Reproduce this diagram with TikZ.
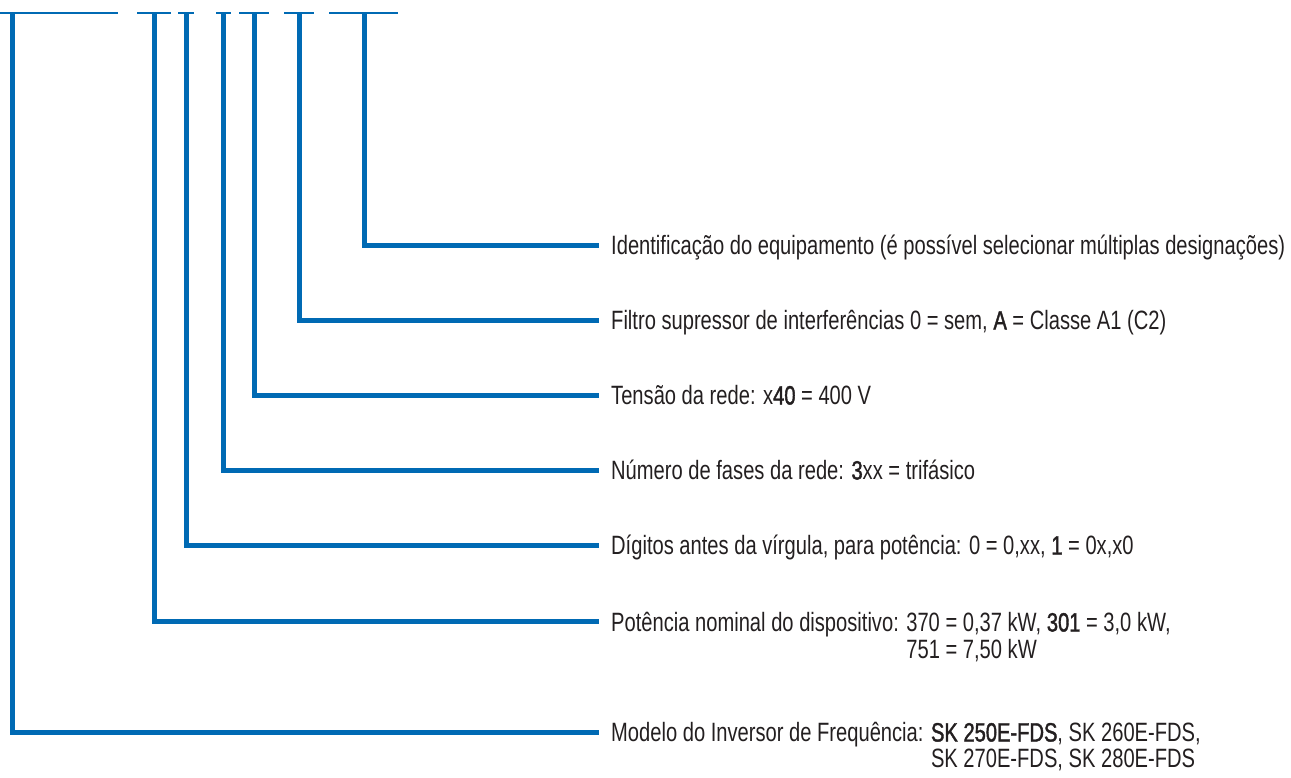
\documentclass[tikz,border=0pt]{standalone}
\usepackage{fontspec}
\setmainfont[FakeStretch=0.76]{Liberation Sans}
\newfontfamily\heavyfont[FakeStretch=0.76,FakeBold=1.5]{Liberation Sans}
\newcommand\bnum[1]{{\heavyfont #1}}
\definecolor{nordblue}{RGB}{0,106,180}
\definecolor{txt}{RGB}{35,31,32}
\begin{document}
\begin{tikzpicture}[x=1pt,y=-1pt,
  lead/.style={draw=nordblue,line width=5pt},
  bar/.style={draw=nordblue,line width=2.5pt},
  lbl/.style={anchor=base west,inner sep=0pt,text=txt,font=\fontsize{26.5}{25.5}\selectfont}]
\useasboundingbox (0,0) rectangle (1291,777);
% top bars
\coordinate (b1a) at (0,13);   \coordinate (b1b) at (118,13);
\coordinate (b2a) at (137,13); \coordinate (b2b) at (171,13);
\coordinate (b3a) at (178,13); \coordinate (b3b) at (194,13);
\coordinate (b4a) at (216,13); \coordinate (b4b) at (231,13);
\coordinate (b5a) at (239,13); \coordinate (b5b) at (269,13);
\coordinate (b6a) at (284,13); \coordinate (b6b) at (314,13);
\coordinate (b7a) at (329,13); \coordinate (b7b) at (398,13);
\draw[bar] (b1a) -- (b1b);
\draw[bar] (b2a) -- (b2b);
\draw[bar] (b3a) -- (b3b);
\draw[bar] (b4a) -- (b4b);
\draw[bar] (b5a) -- (b5b);
\draw[bar] (b6a) -- (b6b);
\draw[bar] (b7a) -- (b7b);
% leader start points
\coordinate (t1) at (12,13);
\coordinate (t2) at (154.5,13);
\coordinate (t3) at (186,13);
\coordinate (t4) at (223,13);
\coordinate (t5) at (254,13);
\coordinate (t6) at (299,13);
\coordinate (t7) at (364,13);
% leader end points
\coordinate (e1) at (599,732);
\coordinate (e2) at (599,621);
\coordinate (e3) at (599,545);
\coordinate (e4) at (599,470);
\coordinate (e5) at (599,395);
\coordinate (e6) at (599,320);
\coordinate (e7) at (599,245);
\draw[lead] (t1) |- (e1);
\draw[lead] (t2) |- (e2);
\draw[lead] (t3) |- (e3);
\draw[lead] (t4) |- (e4);
\draw[lead] (t5) |- (e5);
\draw[lead] (t6) |- (e6);
\draw[lead] (t7) |- (e7);
% labels
\node[lbl] (l7) at (611,254.5) {Identificação do equipamento (é possível selecionar múltiplas designações)};
\node[lbl] (l6) at (611,329.5) {Filtro supressor de interferências 0 = sem, \bnum{A} = Classe A1 (C2)};
\node[lbl] (l5) at (611,404.5) {Tensão da rede: x\bnum{40} = 400 V};
\node[lbl] (l4) at (611,479.5) {Número de fases da rede: \bnum{3}xx = trifásico};
\node[lbl] (l3) at (611,554.5) {Dígitos antes da vírgula, para potência: 0 = 0,xx, \bnum{1} = 0x,x0};
\node[lbl] (l2) at (611,631.5) {Potência nominal do dispositivo: \begin{tabular}[t]{@{}l@{}}370 = 0,37 kW, \bnum{301} = 3,0 kW,\\751 = 7,50 kW\end{tabular}};
\node[lbl] (l1) at (611,741.5) {Modelo do Inversor de Frequência: \begin{tabular}[t]{@{}l@{}}\bnum{SK 250E-FDS}, SK 260E-FDS,\\SK 270E-FDS, SK 280E-FDS\end{tabular}};
\end{tikzpicture}
\end{document}
